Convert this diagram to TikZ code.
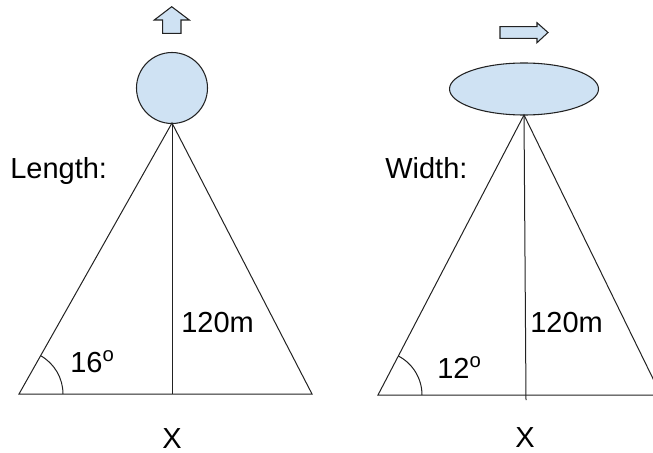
\documentclass[tikz,border=0pt]{standalone}
\usepackage{fontspec}
\setmainfont{Liberation Sans}
\usetikzlibrary{calc}
\usepackage{xcolor}
\definecolor{lightblue}{HTML}{CFE2F3}
\definecolor{edge}{HTML}{222222}

\begin{document}
\begin{tikzpicture}[x=0.75pt,y=-0.75pt,
    shp/.style={draw=edge,fill=lightblue,line width=0.8pt,line join=miter},
    ln/.style={draw=edge,line width=0.75pt},
    lbl/.style={inner sep=0pt,anchor=base west,font=\fontsize{21.75}{26}\selectfont}]
    \useasboundingbox (0,0) rectangle (653,453);
    \pgfmathsetmacro{\r}{44}	%angle arc radius

    % left: length
    \coordinate (LA) at (172,123);
    \coordinate (LB1) at (19,394);
    \coordinate (LB2) at (312,394);
    \coordinate (LF) at (172,394);
    \coordinate (LC) at ($(LA) + (0,-35)$);

    % right: width
    \coordinate (RA) at (524,115);
    \coordinate (RB1) at (378,395);
    \coordinate (RB2) at (661,395);
    \coordinate (RF) at (526,400);
    \coordinate (RC) at ($(RA) + (0,-26)$);

	\draw[shp] (LC) circle [radius=35.5];
	\draw[shp] (RC) ellipse [x radius=74.5, y radius=26];
	\draw[shp] (171.7,6.7) -- (189.3,20) -- (181,20) -- (181,33.3) -- (162.7,33.3) -- (162.7,20) -- (154.3,20) -- cycle;
	\draw[shp] (500,26.7) -- (537,26.7) -- (537,22.7) -- (548,32.5) -- (537,42.7) -- (537,38.3) -- (500,38.3) -- cycle;

	\draw[ln] (LB1) -- (LA) -- (LB2) -- cycle;
	\draw[ln] (LA) -- (LF);
	\draw[ln] ($(LB1)+(\r,0)$) arc [start angle=0, end angle=-60.6, radius=\r];
	\begin{scope}
	\clip (0,0) rectangle (653,453);
	\draw[ln] (RB1) -- (RA) -- (RB2) -- cycle;
	\end{scope}
	\draw[ln] (RA) -- (RF);
	\draw[ln] ($(RB1)+(\r,0)$) arc [start angle=0, end angle=-62.5, radius=\r];

	\node[lbl] (lenlbl) at (10,178) {Length:};
	\node[lbl] (widlbl) at (385,178) {Width:};
	\node[lbl] (lenh) at (181,332) {120m};
	\node[lbl] (widh) at (530,332) {120m};
	\node[lbl] (lenang) at (70,372) {16\textsuperscript{o}};
	\node[lbl] (widang) at (437,378) {12\textsuperscript{o}};
	\node[lbl,anchor=base] (lenx) at (172,448) {X};
	\node[lbl,anchor=base] (widx) at (525,447) {X};
\end{tikzpicture}
\end{document}
